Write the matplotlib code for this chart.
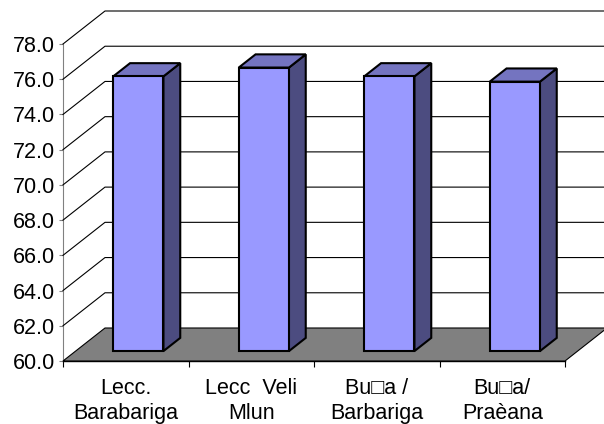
import matplotlib.pyplot as plt
import matplotlib.transforms as mtransforms
from matplotlib.patches import Polygon
from matplotlib.lines import Line2D

plt.rcParams['font.family'] = ['Liberation Sans', 'DejaVu Sans']

# data
categories = ['Lecc.\nBarabariga', 'Lecc  Veli\nMlun', 'Bu\u25a1a /\nBarbariga', 'Bu\u25a1a/\nPraèana']
values = [75.6, 76.1, 75.6, 75.3]
y_ticks = [60, 62, 64, 66, 68, 70, 72, 74, 76, 78]

fig = plt.figure(figsize=(6.04, 4.24), dpi=100)
ax = fig.add_axes([63 / 604, 63 / 424, 502 / 604, 317 / 424])
ax.set_xlim(0, len(categories))
ax.set_ylim(60, 78)
ax.patch.set_visible(False)

# depth offset of back wall in pixels
DX, DY = 42, 33
ident = mtransforms.IdentityTransform()


def proj(x, y, d):
    px, py = ax.transData.transform((x, y))
    return (px + d * DX, py + d * DY)


# back wall and side wall gridlines
for t in y_ticks[1:]:
    p0 = proj(0, t, 0)
    p1 = proj(0, t, 1)
    p2 = proj(len(categories), t, 1)
    fig.add_artist(Line2D([p0[0], p1[0], p2[0]], [p0[1], p1[1], p2[1]],
                          transform=ident, color='black', lw=0.8, zorder=1))

# floor
floor = [proj(0, 60, 0), proj(len(categories), 60, 0),
         proj(len(categories), 60, 1), proj(0, 60, 1)]
fig.add_artist(Polygon(floor, closed=True, transform=ident, facecolor='#808080',
                       edgecolor='black', lw=0.8, zorder=2))

# bars
front_c, top_c, side_c = '#9999FF', '#7474C0', '#4C4C80'
w, d0, d1 = 0.2, 0.3, 0.7
for i, v in enumerate(values):
    xc = i + 0.5
    side = [proj(xc + w, 60, d0), proj(xc + w, 60, d1), proj(xc + w, v, d1), proj(xc + w, v, d0)]
    top = [proj(xc - w, v, d0), proj(xc + w, v, d0), proj(xc + w, v, d1), proj(xc - w, v, d1)]
    front = [proj(xc - w, 60, d0), proj(xc + w, 60, d0), proj(xc + w, v, d0), proj(xc - w, v, d0)]
    for poly, col in [(side, side_c), (top, top_c), (front, front_c)]:
        fig.add_artist(Polygon(poly, closed=True, transform=ident, facecolor=col,
                               edgecolor='black', lw=1.5, joinstyle='miter', zorder=3))

# axes
for s in ['top', 'right']:
    ax.spines[s].set_visible(False)
ax.spines['left'].set_color('#808080')
ax.spines['left'].set_zorder(5)
ax.spines['bottom'].set_color('black')
ax.spines['bottom'].set_linewidth(1.0)
ax.spines['bottom'].set_zorder(5)

ax.set_yticks(y_ticks)
ax.set_yticklabels([f'{t:.1f}' for t in y_ticks], fontsize=15.5)
ax.tick_params(axis='y', direction='out', length=3, width=0.8, color='#808080', pad=3)

ax.set_xticks(range(len(categories) + 1))
ax.set_xticklabels([])
ax.tick_params(axis='x', direction='out', length=4, width=0.8, color='black')
ax.set_xticks([i + 0.5 for i in range(len(categories))], minor=True)
ax.set_xticklabels(categories, minor=True, fontsize=15.5, linespacing=1.3)
ax.tick_params(axis='x', which='minor', length=0, pad=12)

fig.savefig('out.png', dpi=100)
